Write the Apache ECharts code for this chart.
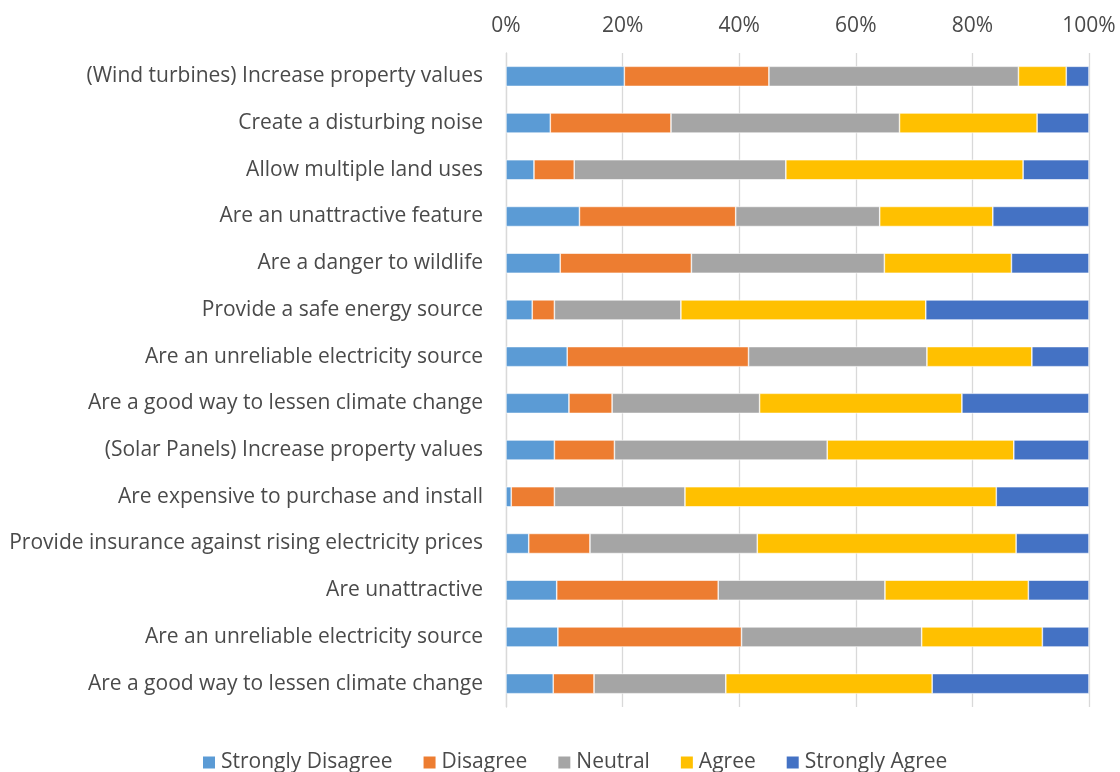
<!DOCTYPE html>
<html>
<head>
<meta charset="utf-8">
<script src="https://cdn.jsdelivr.net/npm/echarts@6/dist/echarts.min.js"></script>
<style>
  html, body { margin: 0; padding: 0; background: #fff; }
  #chart { width: 1120px; height: 772px; }
</style>
</head>
<body>
<div id="chart"></div>
<script>
  // statements, top to bottom as shown
  var categories = [
    '(Wind turbines) Increase property values',
    'Create a disturbing noise',
    'Allow multiple land uses',
    'Are an unattractive feature',
    'Are a danger to wildlife',
    'Provide a safe energy source',
    'Are an unreliable electricity source',
    'Are a good way to lessen climate change',
    '(Solar Panels) Increase property values',
    'Are expensive to purchase and install',
    'Provide insurance against rising electricity prices',
    'Are unattractive',
    'Are an unreliable electricity source',
    'Are a good way to lessen climate change'
  ]

  // shares in %
  var stronglyDisagree = [20.3, 7.6, 4.8, 12.6, 9.3, 4.5, 10.5, 10.8, 8.3, 0.9, 3.9, 8.7, 8.9, 8.1]
  var disagree         = [24.8, 20.7, 6.9, 26.8, 22.5, 3.8, 31.1, 7.4, 10.3, 7.4, 10.5, 27.7, 31.5, 7.0]
  var neutral          = [42.8, 39.2, 36.3, 24.7, 33.1, 21.7, 30.6, 25.3, 36.5, 22.4, 28.7, 28.6, 30.9, 22.6]
  var agree            = [8.2, 23.6, 40.7, 19.4, 21.8, 42.0, 18.0, 34.7, 32.0, 53.4, 44.4, 24.6, 20.7, 35.4]
  var stronglyAgree    = [3.9, 8.9, 11.3, 16.5, 13.3, 28.0, 9.8, 21.8, 12.9, 15.9, 12.5, 10.4, 8.0, 26.9]

  var seriesNames = ['Strongly Disagree', 'Disagree', 'Neutral', 'Agree', 'Strongly Agree']
  var seriesData = [stronglyDisagree, disagree, neutral, agree, stronglyAgree]
  var colors = ['#5B9BD5', '#ED7D31', '#A5A5A5', '#FFC000', '#4472C4']

  var font = '"Open Sans", "Noto Sans", sans-serif'
  var textColor = '#4a4a4a'

  var chart = echarts.init(document.getElementById('chart'))
  chart.setOption({
    animation: false,
    color: colors,
    textStyle: { fontFamily: font },
    grid: { left: 506, right: 31, top: 53, bottom: 65 },
    legend: {
      top: 747,
      left: 196,
      itemWidth: 14,
      itemHeight: 14,
      itemGap: 29,
      icon: 'rect',
      textStyle: { fontSize: 21, color: textColor, fontFamily: font },
      data: seriesNames
    },
    xAxis: {
      type: 'value',
      position: 'top',
      min: 0,
      max: 100,
      interval: 20,
      axisLine: { show: false },
      axisTick: { show: false },
      axisLabel: { formatter: '{value}%', fontSize: 21, color: textColor, margin: 16, fontFamily: font },
      splitLine: { lineStyle: { color: '#D9D9D9', width: 1.3 } }
    },
    yAxis: {
      type: 'category',
      inverse: true,
      data: categories,
      axisLine: { show: true, lineStyle: { color: '#D9D9D9', width: 1.3 } },
      axisTick: { show: false },
      axisLabel: { fontSize: 21, color: textColor, margin: 23, fontFamily: font }
    },
    series: seriesNames.map(function (name, i) {
      return {
        name: name,
        type: 'bar',
        stack: 'total',
        barWidth: '43%',
        itemStyle: { borderColor: '#fff', borderWidth: 0.6 },
        data: seriesData[i]
      }
    })
  })
</script>
</body>
</html>
